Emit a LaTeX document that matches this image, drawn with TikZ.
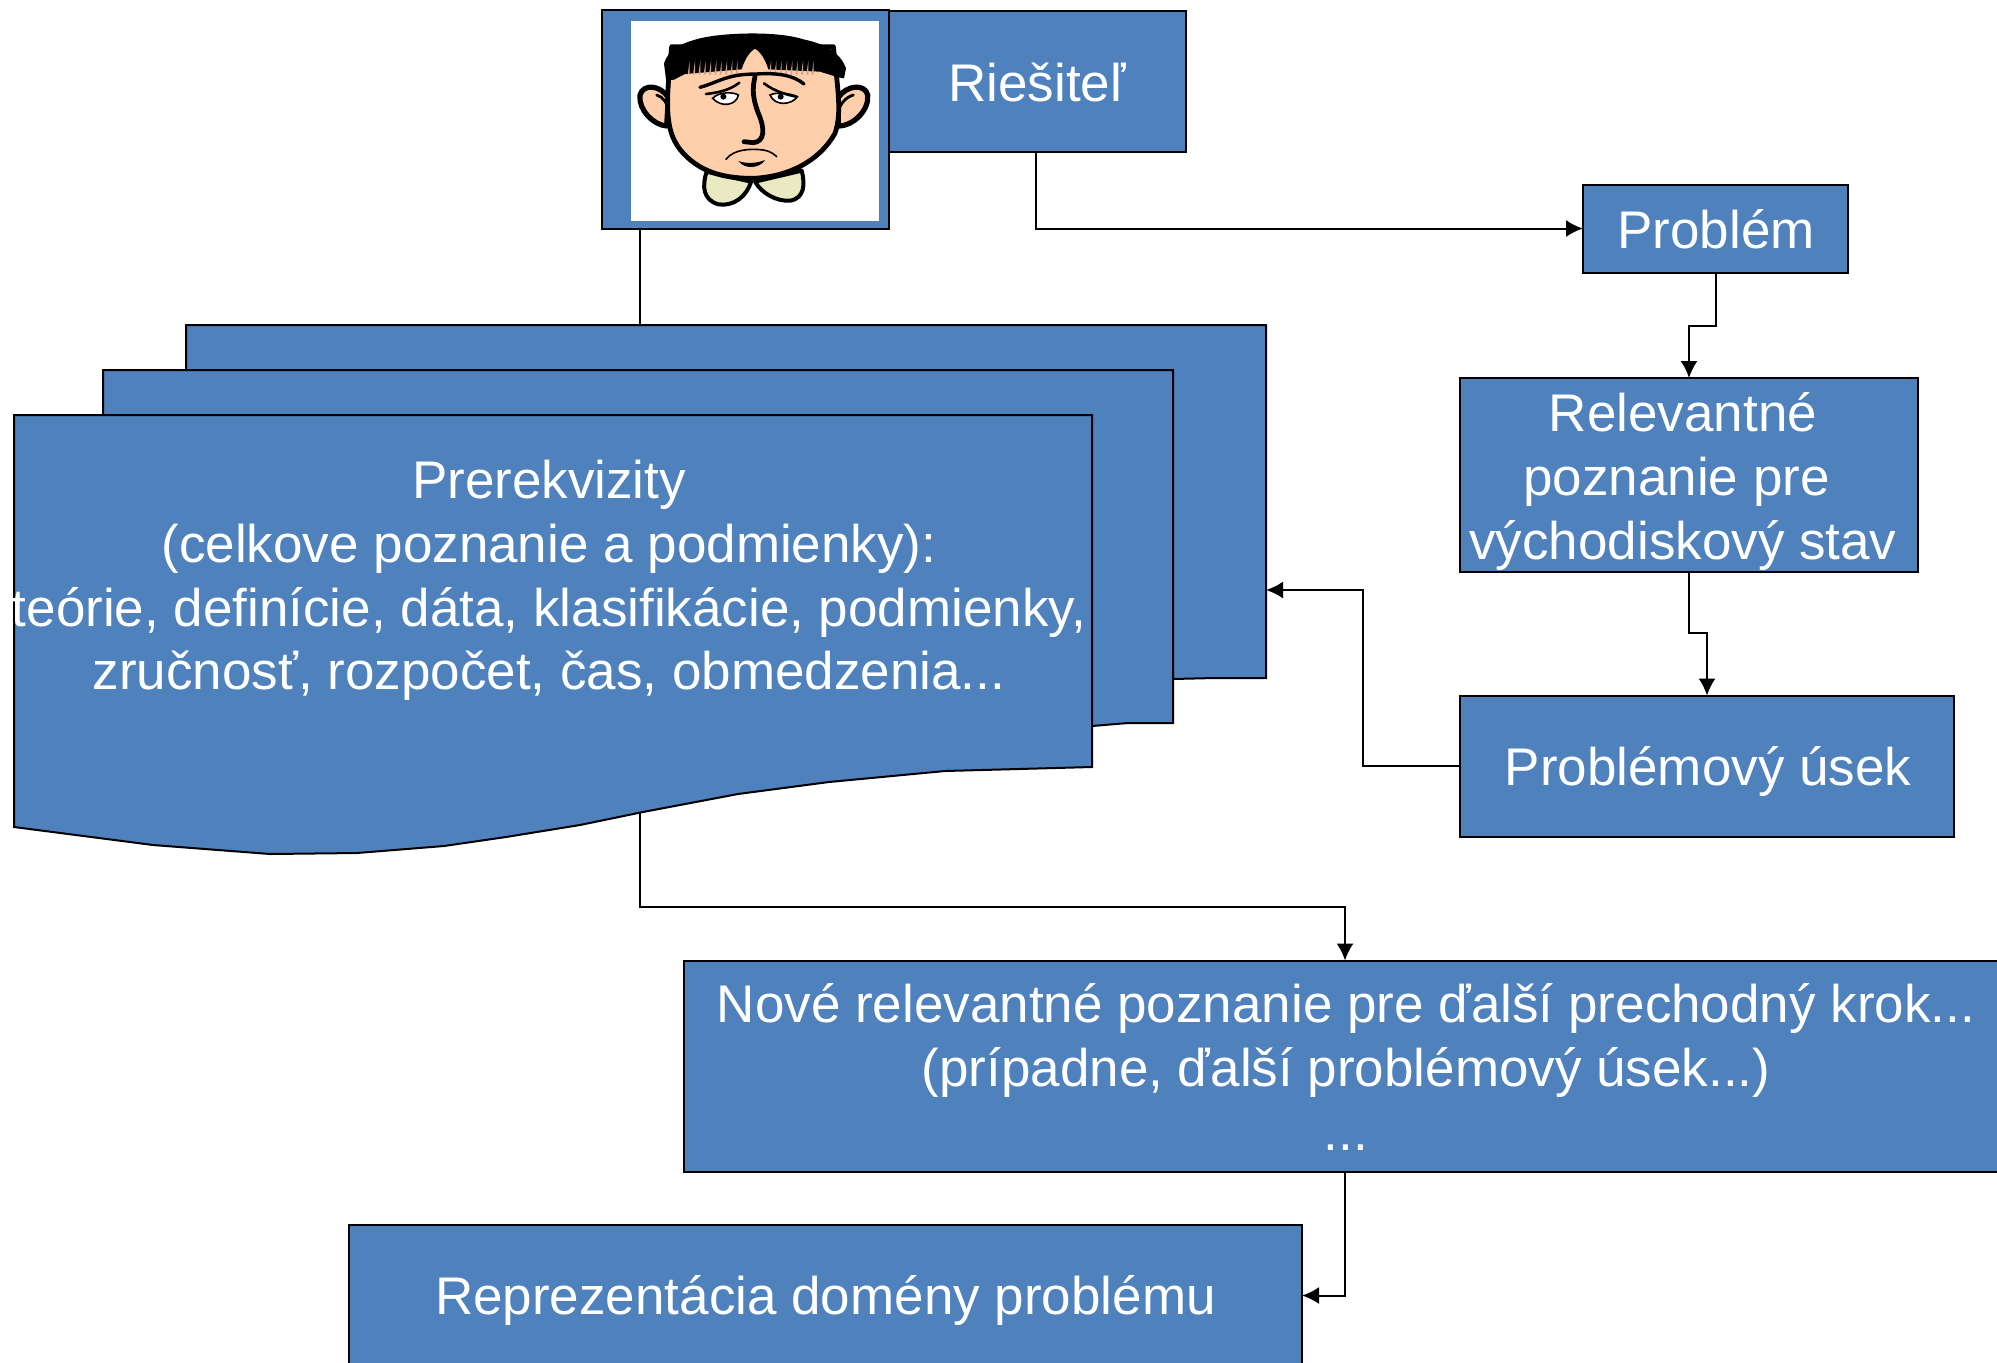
\documentclass[tikz,border=0pt]{standalone}
\usepackage{fontspec}
\setmainfont{Liberation Sans}
\usetikzlibrary{arrows.meta}
\definecolor{boxblue}{HTML}{4F81BD}
\definecolor{skin}{HTML}{FFCFAB}
\definecolor{collar}{HTML}{E9E9C2}
\tikzset{
  bluebox/.style={draw=black,fill=boxblue,line width=1pt,text=white,align=center,inner sep=0pt,outer sep=0pt},
  docshape/.style={draw=black,fill=boxblue,line width=1pt},
  conn/.style={draw=black,line width=1pt},
  arrowconn/.style={conn,-{Latex[length=8.5pt,width=8.5pt]}},
  label/.style={text=white,align=center,inner sep=0pt,font=\fontsize{26.5}{31.8}\selectfont},
  faceline/.style={draw=black,line width=2pt,line join=round,line cap=round},
  thinface/.style={draw=black,line width=.8pt,line cap=round},
}
\begin{document}
\begin{tikzpicture}[x=.5pt,y=-.5pt]
\useasboundingbox (0,0) rectangle (1997,1362);
% stacked documents
\draw[docshape] (186,325) -- (1266,325) -- (1266,678) -- (1215,678) -- (1173,679) -- (186,679) -- cycle;
\draw[docshape] (103,370) -- (1173,370) -- (1173,723) -- (1128,723) -- (1092,726) -- (103,726) -- cycle;
\draw[docshape] (14,415) -- (1092,415) -- (1092,767) -- (945,771) -- (829,782) -- (738,794) -- (643,812) -- (580,825) -- (506,837) -- (444,846) -- (357,853) -- (270,854) -- (153,845) -- (14,827) -- cycle;
\coordinate (doctop) at (640,325);
\coordinate (docright) at (1266,590);
\coordinate (docbottom) at (640,812);
\node[label,anchor=center] (prereq) at (549,580.5) {Prerekvizity\\(celkove poznanie a podmienky):\\teórie, definície, dáta, klasifikácie, podmienky,\\zručnosť, rozpočet, čas, obmedzenia...};
% boxes
\node[bluebox,minimum width=148.5pt,minimum height=70.5pt] (riesitel) at (1037.5,81) {};
\node[label] (riesiteltext) at (1037,82) {Riešiteľ};
\node[bluebox,minimum width=143.5pt,minimum height=109.5pt] (facebox) at (745.5,119.5) {};
\node[fill=white,inner sep=0pt,minimum width=124pt,minimum height=100pt] (photo) at (755,121) {};
\node[bluebox,minimum width=132.5pt,minimum height=44pt] (problem) at (1715.5,228.5) {};
\node[label] (problemtext) at (1716,229) {Problém};
\node[bluebox,minimum width=229pt,minimum height=97pt] (relev) at (1689,475) {};
\node[label] (relevtext) at (1683,481.5) {Relevantné\\\mbox{poznanie pre\hspace{6.4pt}}\\východiskový stav};
\node[bluebox,minimum width=247pt,minimum height=70.5pt] (usek) at (1707,766) {};
\node[label] (usektext) at (1708,771.5) {Problémový úsek};
\node[bluebox,minimum width=661pt,minimum height=105.5pt] (nove) at (1345,1066) {};
\node[label] (novetext) at (1346,1067) {Nové relevantné poznanie pre ďalší prechodný krok...\\(prípadne, ďalší problémový úsek...)\\...};
\node[bluebox,minimum width=476.5pt,minimum height=71pt] (domena) at (825.5,1295.5) {};
\node[label] (domenatext) at (825.5,1300) {Reprezentácia domény problému};
% connectors
\draw[conn] (640,229) -- (doctop);
\draw[arrowconn] (riesitel.south) ++(-1.5,0) |- (problem.west);
\draw[arrowconn] (problem.south) -- ++(0,53) -| (relev.north);
\draw[arrowconn] (relev.south) -- ++(0,61) -| (usek.north);
\draw[arrowconn] (usek.west) -- ++(-97,0) |- (docright);
\draw[arrowconn] (docbottom) -- ++(0,95) -| (nove.north);
\draw[arrowconn] (nove.south) |- (domena.east);
% face (coordinates of a 3x crop)
\begin{scope}[shift={(590,0)},x=.16667pt,y=-.16667pt]
\draw[faceline,fill=collar] (350,515) .. controls (335,560) and (340,600) .. (385,613) .. controls (430,620) and (470,590) .. (483,545) -- cycle;
\draw[faceline,fill=collar] (495,545) .. controls (515,580) and (560,605) .. (600,602) .. controls (645,595) and (645,550) .. (635,512) -- cycle;
\draw[faceline,line width=2.6pt,fill=skin] (235,292) .. controls (210,255) and (160,250) .. (150,285) .. controls (145,330) and (190,375) .. (230,378) -- cycle;
\draw[faceline,line width=2.6pt,fill=skin] (745,292) .. controls (770,255) and (825,250) .. (833,285) .. controls (838,330) and (790,378) .. (745,378) -- cycle;
\draw[faceline,line width=1.4pt] (200,285) .. controls (220,290) and (232,310) .. (236,335);
\draw[faceline,line width=1.4pt] (790,285) .. controls (770,290) and (750,310) .. (742,340);
\draw[faceline,line width=2.4pt,fill=skin] (245,140) .. controls (225,330) and (225,400) .. (280,460) .. controls (340,525) and (420,535) .. (490,535) .. controls (600,530) and (690,480) .. (735,400) .. controls (755,340) and (745,280) .. (730,140) -- cycle;
% hair
\fill[black] (228,238) -- (222,190) .. controls (235,150) and (270,130) .. (330,115) .. controls (400,98) and (560,92) .. (640,118) .. controls (700,130) and (750,155) .. (768,205) -- (762,235) -- (745,232) -- (690,215) -- (535,208) .. controls (525,175) and (510,155) .. (495,145) .. controls (480,155) and (465,175) .. (455,208) -- (285,222) -- (250,240) -- cycle;
\foreach \hx in {296,312,328,344,360,376,392,408,424,440,540,556,572,588,604,620,636,652,668}
  \fill[skin!80!black] (\hx-3,224) -- (\hx+3,224) -- (\hx+3,182) -- cycle;
\draw[faceline,line width=1.7pt] (330,262) .. controls (390,245) and (410,222) .. (500,222) .. controls (560,218) and (610,225) .. (642,252);
% eyes and brows
\draw[thinface,fill=white] (368,295) .. controls (385,275) and (430,275) .. (445,285) .. controls (440,315) and (395,325) .. (368,295) -- cycle;
\draw[thinface,fill=white] (540,285) .. controls (560,275) and (600,280) .. (622,290) .. controls (605,315) and (555,320) .. (540,285) -- cycle;
\fill[black] (400,290) circle[radius=9];
\fill[black] (572,290) circle[radius=9];
\draw[faceline,line width=1.3pt] (348,282) .. controls (385,278) and (420,270) .. (448,248);
\draw[faceline,line width=1.3pt] (522,250) .. controls (550,272) and (590,285) .. (620,290);
% nose
\draw[faceline,line width=2.4pt] (495,230) .. controls (485,270) and (490,300) .. (505,340) .. controls (525,385) and (525,425) .. (490,428) -- (462,425);
% mouth
\draw[thinface] (408,478) .. controls (430,448) and (480,445) .. (520,450) .. controls (540,452) and (555,465) .. (560,470);
\fill[black] (445,483) .. controls (470,492) and (500,490) .. (525,480) .. controls (510,505) and (465,510) .. (445,483) -- cycle;
\end{scope}
\end{tikzpicture}
\end{document}
